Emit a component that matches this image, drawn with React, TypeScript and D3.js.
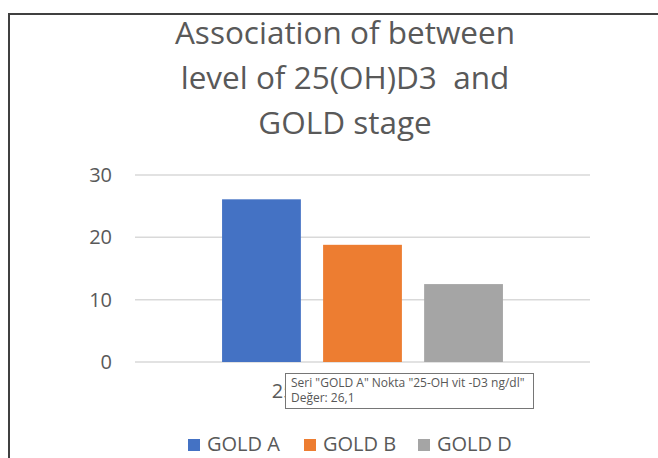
import { useEffect, useRef } from "react";
import * as d3 from "d3";

const titleLines = ["Association of between", "level of 25(OH)D3  and", "GOLD stage"];
const category = "25-OH vit -D3 ng/dl";
const seriesNames = ["GOLD A", "GOLD B", "GOLD D"];
const seriesValues = [26.1, 18.8, 12.5];
const seriesColors = ["#4472c4", "#ed7d31", "#a5a5a5"];
const yTicks = [0, 10, 20, 30];
const tooltipLines = ['Seri "GOLD A" Nokta "25-OH vit -D3 ng/dl"', "Değer: 26,1"];

export default function App() {
  const ref = useRef<SVGSVGElement>(null);

  useEffect(() => {
    if (!ref.current) return;
    const width = 658,
      height = 458;
    const font = "'Open Sans', sans-serif";
    const textColor = "#595959";

    const svg = d3.select(ref.current);
    svg.selectAll("*").remove();
    svg.attr("width", width).attr("height", height);

    svg.append("rect").attr("width", width).attr("height", height).attr("fill", "#fff");

    // chart frame (top + left edge visible)
    svg
      .append("path")
      .attr("d", `M9,${height} V14 H${width}`)
      .attr("fill", "none")
      .attr("stroke", "#404040")
      .attr("stroke-width", 2);

    // title
    svg
      .append("g")
      .selectAll("text")
      .data(titleLines)
      .enter()
      .append("text")
      .attr("x", 345)
      .attr("y", (d, i) => 44 + i * 45)
      .attr("text-anchor", "middle")
      .style("font-family", font)
      .style("font-size", "31.5px")
      .style("fill", textColor)
      .style("white-space", "pre")
      .text((d) => d);

    const plot = { left: 135, right: 590, top: 175, bottom: 362 };

    const y = d3.scaleLinear().domain([0, 30]).range([plot.bottom, plot.top]);

    const x0 = d3
      .scaleBand()
      .domain([category])
      .range([plot.left, plot.right])
      .paddingInner(0)
      .paddingOuter(0.31);

    const x1 = d3
      .scaleBand()
      .domain(seriesNames)
      .range([0, x0.bandwidth()])
      .paddingInner(0.22);

    // gridlines
    svg
      .append("g")
      .selectAll("line")
      .data(yTicks)
      .enter()
      .append("line")
      .attr("x1", plot.left)
      .attr("x2", plot.right)
      .attr("y1", (d) => y(d))
      .attr("y2", (d) => y(d))
      .attr("stroke", "#d9d9d9")
      .attr("stroke-width", 1.5);

    // y tick labels
    svg
      .append("g")
      .selectAll("text")
      .data(yTicks)
      .enter()
      .append("text")
      .attr("x", 112)
      .attr("y", (d) => y(d))
      .attr("dy", "0.35em")
      .attr("text-anchor", "end")
      .style("font-family", font)
      .style("font-size", "20px")
      .style("fill", textColor)
      .text((d) => d);

    // bars
    const x0Start = x0(category) as number;
    svg
      .append("g")
      .selectAll("rect")
      .data(seriesNames)
      .enter()
      .append("rect")
      .attr("x", (d) => x0Start + (x1(d) as number))
      .attr("y", (d, i) => y(seriesValues[i]))
      .attr("width", x1.bandwidth())
      .attr("height", (d, i) => plot.bottom - y(seriesValues[i]))
      .attr("fill", (d, i) => seriesColors[i]);

    // category label (partly hidden under the tooltip, as in the screenshot)
    svg
      .append("text")
      .attr("x", x0Start + x0.bandwidth() / 2 - 2)
      .attr("y", 398)
      .attr("text-anchor", "middle")
      .style("font-family", font)
      .style("font-size", "20px")
      .style("fill", textColor)
      .text(category);

    // legend
    const legendX = [188, 304, 418];
    const legend = svg
      .append("g")
      .selectAll("g")
      .data(seriesNames)
      .enter()
      .append("g")
      .attr("transform", (d, i) => `translate(${legendX[i]},439)`);
    legend
      .append("rect")
      .attr("width", 12)
      .attr("height", 12)
      .attr("fill", (d, i) => seriesColors[i]);
    legend
      .append("text")
      .attr("x", 19)
      .attr("y", 12)
      .style("font-family", font)
      .style("font-size", "20px")
      .style("fill", textColor)
      .text((d) => d);

    // hover tooltip
    const tip = svg.append("g").attr("transform", "translate(285.5,373.5)");
    tip
      .append("rect")
      .attr("width", 248)
      .attr("height", 35)
      .attr("fill", "#fff")
      .attr("stroke", "#767676")
      .attr("stroke-width", 1);
    tip
      .selectAll("text")
      .data(tooltipLines)
      .enter()
      .append("text")
      .attr("x", 5.5)
      .attr("y", (d, i) => 13.5 + i * 15)
      .style("font-family", font)
      .style("font-size", "12px")
      .style("fill", "#575757")
      .text((d) => d);
  }, []);

  return <svg ref={ref} style={{ position: "absolute", left: 0, top: 0 }} />;
}
